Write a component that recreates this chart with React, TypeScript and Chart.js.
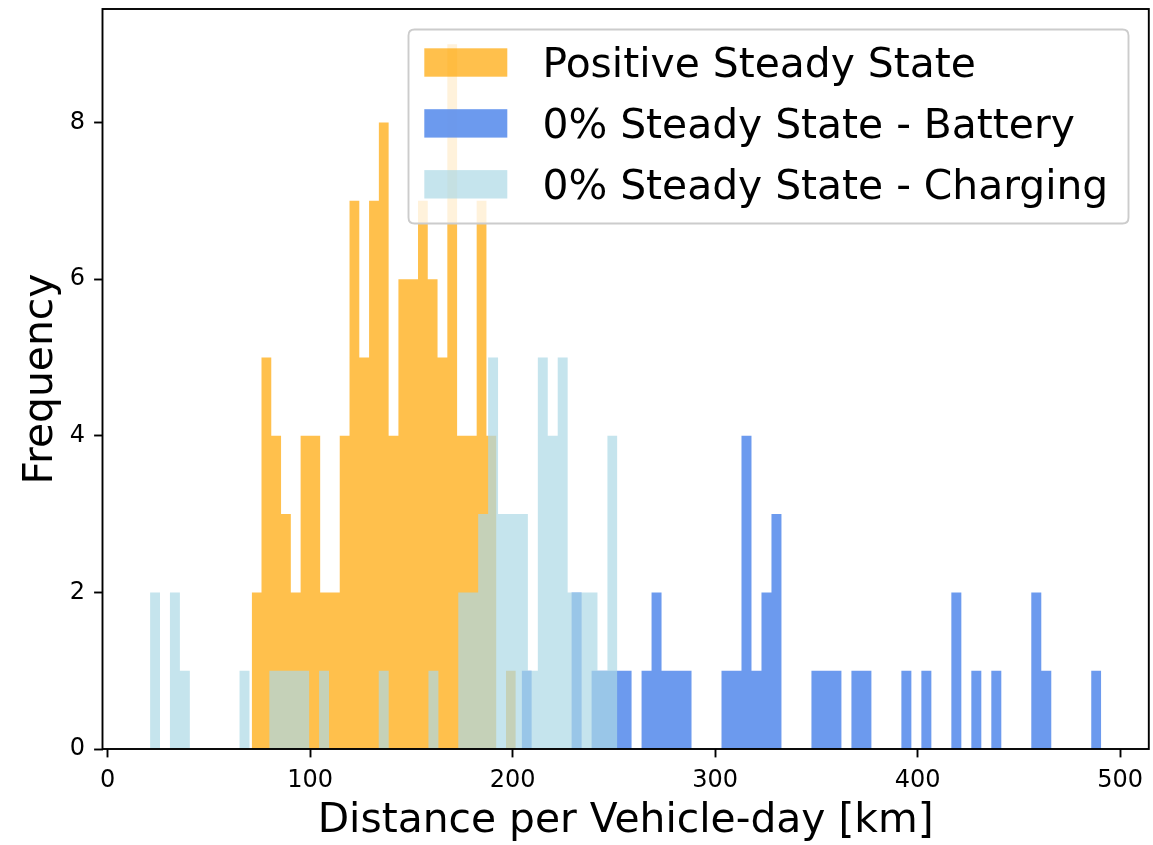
import React, { useEffect, useRef } from 'react';
import { Chart, registerables } from 'chart.js';

Chart.register(...registerables);

// ---- Data (histogram bin counts) ----
const seriesLabels = [
  'Positive Steady State',
  '0% Steady State - Battery',
  '0% Steady State - Charging',
];

const positiveStart = 71.1;
const positiveBinWidth = 4.83;
const positiveCounts = [2, 5, 4, 3, 2, 4, 4, 2, 2, 4, 7, 5, 7, 8, 4, 6, 6, 7, 6, 5, 9, 4, 4, 7, 4, 0, 1];

const batteryStart = 204.4;
const batteryBinWidth = 4.935;
const batteryCounts = [
  1, 0, 0, 0, 0, 2, 0, 1, 1, 1, 1, 0, 1, 2, 1, 1, 1, 0, 0, 0, 1, 1, 4, 1, 2, 3, 0, 0, 0, 1,
  1, 1, 0, 1, 1, 0, 0, 0, 1, 0, 1, 0, 0, 2, 0, 1, 0, 1, 0, 0, 0, 2, 1, 0, 0, 0, 0, 1,
];

const chargingStart = 20.9;
const chargingBinWidth = 4.91;
const chargingCounts = [
  2, 0, 2, 1, 0, 0, 0, 0, 0, 1, 0, 0, 1, 1, 1, 1, 0, 1, 0, 0, 0, 0, 0, 1, 0, 0, 0, 0, 1, 0,
  0, 2, 2, 3, 5, 3, 3, 3, 1, 5, 4, 5, 2, 2, 2, 1, 4,
];

const xTicks = [0, 100, 200, 300, 400, 500];
const yTicks = [0, 2, 4, 6, 8];

const xTitle = 'Distance per Vehicle-day [km]';
const yTitle = 'Frequency';

// ---- Styles ----
const colors = [
  'rgba(255,165,0,0.7)',
  'rgba(100,149,237,0.95)',
  'rgba(173,216,230,0.7)',
];
const FONT = '"DejaVu Sans", "Liberation Sans", sans-serif';

function stepPoints(start: number, width: number, counts: number[]) {
  const pts = counts.map((c, i) => ({ x: start + i * width, y: c }));
  pts.push({ x: start + counts.length * width, y: 0 });
  return pts;
}

const framePlugin = {
  id: 'frame',
  afterDatasetsDraw(chart: any) {
    const { ctx, chartArea: a } = chart;
    ctx.save();
    ctx.strokeStyle = '#000';
    ctx.lineWidth = 1.9;
    ctx.strokeRect(a.left, a.top, a.right - a.left, a.bottom - a.top);
    ctx.restore();
  },
};

const legendPlugin = {
  id: 'mplLegend',
  afterDraw(chart: any) {
    const { ctx } = chart;
    const bx = 408.5, by = 29.5, bw = 720, bh = 194, r = 6;
    ctx.save();
    ctx.beginPath();
    ctx.moveTo(bx + r, by);
    ctx.lineTo(bx + bw - r, by);
    ctx.quadraticCurveTo(bx + bw, by, bx + bw, by + r);
    ctx.lineTo(bx + bw, by + bh - r);
    ctx.quadraticCurveTo(bx + bw, by + bh, bx + bw - r, by + bh);
    ctx.lineTo(bx + r, by + bh);
    ctx.quadraticCurveTo(bx, by + bh, bx, by + bh - r);
    ctx.lineTo(bx, by + r);
    ctx.quadraticCurveTo(bx, by, bx + r, by);
    ctx.closePath();
    ctx.fillStyle = 'rgba(255,255,255,0.8)';
    ctx.fill();
    ctx.strokeStyle = '#cccccc';
    ctx.lineWidth = 1.9;
    ctx.stroke();

    const rowTop = 48.3, rowGap = 60.9, patchH = 28.4;
    ctx.font = `40.8px ${FONT}`;
    ctx.textBaseline = 'alphabetic';
    ctx.textAlign = 'left';
    seriesLabels.forEach((lab, i) => {
      const y = rowTop + i * rowGap;
      ctx.fillStyle = colors[i];
      ctx.fillRect(424.3, y, 83, patchH);
      ctx.fillStyle = '#000';
      ctx.fillText(lab, 542.5, y + patchH);
    });
    ctx.restore();
  },
};

export default function App() {
  const ref = useRef<HTMLCanvasElement | null>(null);

  useEffect(() => {
    if (!ref.current) return;
    const allEdges = [
      chargingStart,
      chargingStart + chargingCounts.length * chargingBinWidth,
      positiveStart,
      positiveStart + positiveCounts.length * positiveBinWidth,
      batteryStart,
      batteryStart + batteryCounts.length * batteryBinWidth,
    ];
    const dataMin = Math.min(...allEdges);
    const dataMax = Math.max(...allEdges);
    const margin = (dataMax - dataMin) * 0.05;
    const yMax = Math.max(...positiveCounts, ...batteryCounts, ...chargingCounts) * 1.05;

    const series = [
      { start: positiveStart, w: positiveBinWidth, counts: positiveCounts, order: 3 },
      { start: batteryStart, w: batteryBinWidth, counts: batteryCounts, order: 2 },
      { start: chargingStart, w: chargingBinWidth, counts: chargingCounts, order: 1 },
    ];

    const tickFont = { family: FONT, size: 24 };
    const titleFont = { family: FONT, size: 40.8, lineHeight: 1.15 };

    const chart = new Chart(ref.current, {
      type: 'line',
      data: {
        datasets: series.map((s, i) => ({
          label: seriesLabels[i],
          data: stepPoints(s.start, s.w, s.counts),
          stepped: true,
          fill: 'origin',
          backgroundColor: colors[i],
          borderColor: 'rgba(0,0,0,0)',
          borderWidth: 0,
          pointRadius: 0,
          pointHoverRadius: 0,
          order: s.order,
        })),
      },
      options: {
        animation: false,
        responsive: false,
        devicePixelRatio: 1,
        events: [],
        layout: { padding: { left: 0, top: 9, right: 4.2, bottom: 0 } },
        plugins: { legend: { display: false }, tooltip: { enabled: false } },
        scales: {
          x: {
            type: 'linear',
            min: dataMin - margin,
            max: dataMax + margin,
            afterFit: (s: any) => { s.height = 96; s.paddingLeft = 0; s.paddingRight = 0; },
            afterBuildTicks: (s: any) => { s.ticks = xTicks.map((v) => ({ value: v })); },
            ticks: { font: tickFont, color: '#000', padding: 9, maxRotation: 0, autoSkip: false, callback: (v: any) => String(v) },
            grid: { drawOnChartArea: false, drawTicks: true, tickLength: 8.4, tickWidth: 1.9, tickColor: '#000', color: '#000' },
            border: { display: false },
            title: { display: true, text: xTitle, font: titleFont, color: '#000', padding: { top: 0, bottom: 0 } },
          },
          y: {
            type: 'linear',
            min: 0,
            max: yMax,
            afterFit: (s: any) => { s.width = 102.5; s.paddingTop = 0; s.paddingBottom = 0; },
            afterBuildTicks: (s: any) => { s.ticks = yTicks.map((v) => ({ value: v })); },
            ticks: { font: tickFont, color: '#000', padding: 9, autoSkip: false, callback: (v: any) => String(v) },
            grid: { drawOnChartArea: false, drawTicks: true, tickLength: 8.4, tickWidth: 1.9, tickColor: '#000', color: '#000' },
            border: { display: false },
            title: { display: true, text: yTitle, font: titleFont, color: '#000', padding: { top: 18, bottom: 0 } },
          },
        },
      },
      plugins: [framePlugin, legendPlugin],
    } as any);
    return () => chart.destroy();
  }, []);

  return (
    <div style={{ position: 'fixed', left: 0, top: 0, width: 1153, height: 845, background: '#fff' }}>
      <canvas ref={ref} width={1153} height={845} style={{ display: 'block', width: 1153, height: 845 }} />
    </div>
  );
}
